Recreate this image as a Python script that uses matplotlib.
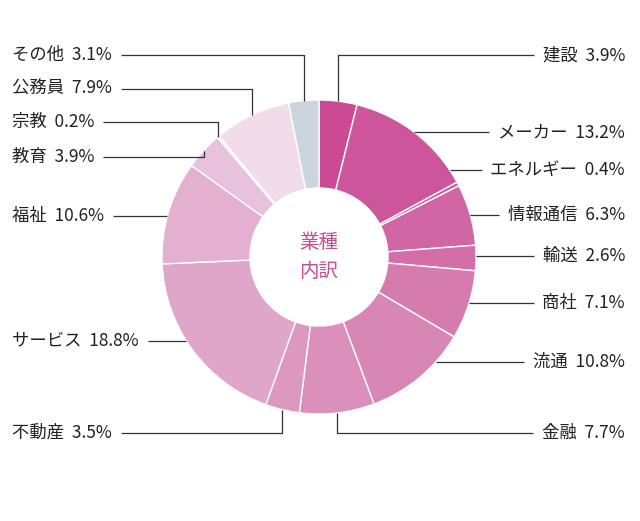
import numpy as np
import matplotlib.pyplot as plt

plt.rcParams['font.family'] = 'Noto Sans CJK JP'

# --- data (clockwise from top) ---
labels = ['建設', 'メーカー', 'エネルギー', '情報通信', '輸送', '商社', '流通', '金融',
          '不動産', 'サービス', '福祉', '教育', '宗教', '公務員', 'その他']
values = [3.9, 13.2, 0.4, 6.3, 2.6, 7.1, 10.8, 7.7, 3.5, 18.8, 10.6, 3.9, 0.2, 7.9, 3.1]
colors = ['#cc4a94', '#cc559b', '#cc5a9d', '#d066a3', '#d36ea8', '#d67bae', '#d886b5',
          '#db90bb', '#dd98c0', '#e0a6c9', '#e3b0d0', '#e8c2dc', '#ecc9e0', '#f3dcea',
          '#cbd5dc']
# label row (pixel y) and leader style: 'v' = vertical then horizontal, 'h' = horizontal
label_y = [55, 132, 170, 215, 256, 303, 362, 433, 433, 341, 216, 157, 122, 89, 55]
modes = ['v', 'h', 'h', 'h', 'h', 'h', 'h', 'v', 'v', 'h', 'h', 'v', 'v', 'v', 'v']

W, H = 640, 521
cx, cy, R, r_in = 319, H - 257, 157, 69

fig = plt.figure(figsize=(6.4, 5.21), dpi=100)
ax = fig.add_axes([0, 0, 1, 1])

ax.pie(values, colors=colors, startangle=90, counterclock=False, center=(cx, cy),
       radius=R, wedgeprops=dict(width=R - r_in, edgecolor='white', linewidth=1))
ax.set_xlim(0, W)
ax.set_ylim(0, H)
ax.set_aspect('equal')
ax.axis('off')

ax.text(cx, cy, '業種\n内訳', ha='center', va='center', color='#c94b92',
        fontsize=14, linespacing=1.5)

fig.canvas.draw()
renderer = fig.canvas.get_renderer()
inv = ax.transData.inverted()

cum = np.cumsum([0] + values)
for i, (lab, v) in enumerate(zip(labels, values)):
    mid = (cum[i] + cum[i + 1]) / 2 / 100 * 2 * np.pi
    px, py = cx + R * np.sin(mid), cy + R * np.cos(mid)
    ly = H - label_y[i]
    right = np.sin(mid) > 0
    txt = f'{lab}  {v:.1f}%'
    if right:
        t = ax.text(625, ly, txt, ha='right', va='center', fontsize=12.5, color='#222222')
    else:
        t = ax.text(12, ly, txt, ha='left', va='center', fontsize=12.5, color='#222222')
    bb = t.get_window_extent(renderer).transformed(inv)
    end = bb.x0 - 9 if right else bb.x1 + 9
    if modes[i] == 'v':
        xs, ys = [px, px, end], [py, ly, ly]
    else:
        dy = ly - cy
        sx = cx + np.sqrt(max(R ** 2 - dy ** 2, 0)) * (1 if right else -1)
        xs, ys = [sx, end], [ly, ly]
    ax.plot(xs, ys, color='#333333', lw=0.9, solid_capstyle='butt')

fig.savefig('out.png', dpi=100)
